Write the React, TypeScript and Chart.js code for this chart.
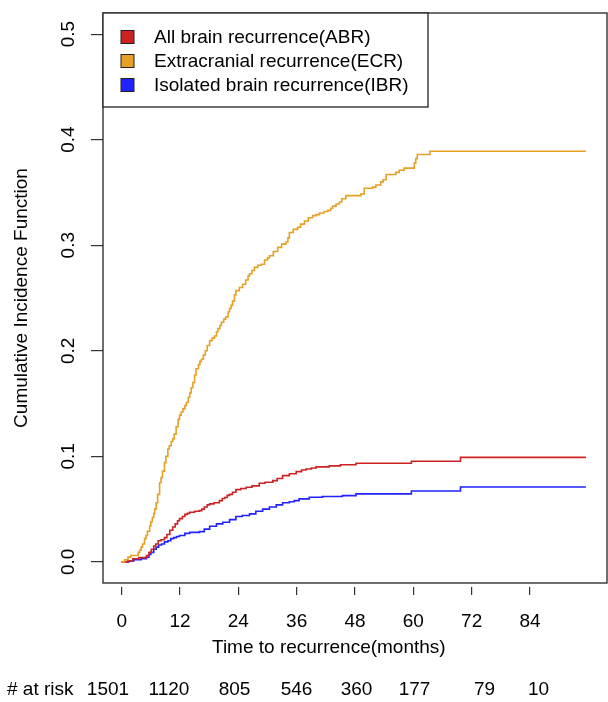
import React, { useEffect, useRef } from 'react';
import { Chart, registerables } from 'chart.js';

Chart.register(...registerables);

// ---- data ----
const seriesLabels = ['All brain recurrence(ABR)', 'Extracranial recurrence(ECR)', 'Isolated brain recurrence(IBR)'];
const seriesColors = ['#CD2222', '#E6A024', '#2222FF'];

const abrTime = [0, 1.2, 2.3, 3.5, 5.1, 5.6, 6.1, 6.6, 7.0, 7.5, 8.1, 8.8, 9.3, 9.9, 10.5, 11.0, 11.5, 11.9, 12.5, 13.0, 13.5, 14.0, 15.0, 16.0, 16.5, 17.0, 17.6, 18.1, 19.0, 20.1, 20.7, 21.2, 21.7, 22.2, 22.8, 23.5, 24.5, 25.6, 26.8, 28.3, 29.5, 31.1, 32.0, 33.1, 34.5, 35.9, 37.0, 37.9, 39.0, 40.0, 42.7, 45.0, 48.2, 59.6, 69.7, 95.5];
const abrCif = [0, 0.001, 0.003, 0.004, 0.006, 0.009, 0.012, 0.015, 0.017, 0.020, 0.021, 0.023, 0.026, 0.030, 0.033, 0.036, 0.039, 0.041, 0.043, 0.045, 0.046, 0.047, 0.048, 0.0486, 0.050, 0.052, 0.054, 0.055, 0.056, 0.058, 0.060, 0.061, 0.063, 0.064, 0.066, 0.0685, 0.0695, 0.0707, 0.072, 0.0745, 0.0755, 0.077, 0.079, 0.0817, 0.0835, 0.0855, 0.087, 0.088, 0.089, 0.090, 0.091, 0.092, 0.0934, 0.0953, 0.099, 0.099];

const ecrTime = [0, 0.6, 1.3, 1.85, 3.0, 3.4, 3.7, 4.0, 4.3, 4.7, 5.0, 5.3, 5.75, 6.0, 6.3, 6.6, 6.8, 7.1, 7.4, 7.8, 8.1, 8.4, 8.8, 9.1, 9.5, 9.8, 10.2, 10.5, 10.8, 11.2, 11.6, 11.9, 12.25, 12.6, 13.0, 13.3, 13.7, 14.0, 14.3, 14.65, 15.0, 15.3, 15.8, 16.1, 16.4, 16.8, 17.2, 17.6, 18.1, 18.6, 19.1, 19.5, 19.8, 20.2, 20.5, 21.0, 21.4, 21.9, 22.2, 22.5, 22.8, 23.2, 23.5, 24.2, 24.9, 25.5, 26.0, 26.3, 26.8, 27.3, 28.0, 28.7, 29.4, 30.0, 30.4, 31.2, 32.1, 32.9, 33.8, 34.2, 34.5, 35.3, 36.2, 36.8, 37.6, 38.4, 39.3, 40.0, 40.7, 41.6, 42.4, 43.0, 43.4, 44.1, 44.8, 45.3, 46.1, 49.2, 49.9, 51.6, 52.3, 53.3, 53.8, 54.4, 56.4, 57.1, 58.1, 60.2, 60.5, 60.8, 63.4, 95.5];
const ecrCif = [0, 0.002, 0.0045, 0.006, 0.006, 0.009, 0.011, 0.014, 0.017, 0.022, 0.025, 0.029, 0.034, 0.038, 0.042, 0.046, 0.050, 0.056, 0.064, 0.075, 0.080, 0.086, 0.094, 0.100, 0.107, 0.110, 0.114, 0.1165, 0.121, 0.128, 0.135, 0.139, 0.142, 0.145, 0.148, 0.151, 0.156, 0.160, 0.165, 0.170, 0.177, 0.183, 0.187, 0.190, 0.192, 0.196, 0.200, 0.205, 0.2096, 0.212, 0.214, 0.218, 0.221, 0.224, 0.227, 0.230, 0.232, 0.237, 0.240, 0.243, 0.247, 0.253, 0.257, 0.260, 0.263, 0.267, 0.271, 0.273, 0.276, 0.279, 0.281, 0.282, 0.286, 0.288, 0.290, 0.294, 0.298, 0.301, 0.303, 0.307, 0.312, 0.315, 0.317, 0.320, 0.323, 0.326, 0.328, 0.329, 0.3305, 0.332, 0.333, 0.335, 0.337, 0.339, 0.341, 0.344, 0.347, 0.3485, 0.354, 0.355, 0.357, 0.360, 0.362, 0.367, 0.369, 0.371, 0.373, 0.378, 0.382, 0.386, 0.389, 0.389];

const ibrTime = [0, 1.5, 2.5, 4.0, 5.1, 5.6, 6.0, 6.6, 7.1, 7.6, 8.2, 8.8, 9.5, 10.1, 10.7, 11.3, 11.9, 13.0, 14.0, 16.0, 17.0, 18.1, 19.5, 20.8, 22.2, 23.5, 24.8, 26.3, 27.6, 29.0, 30.4, 31.8, 33.1, 34.5, 35.5, 36.5, 38.6, 41.3, 45.4, 48.2, 59.6, 69.7, 95.5];
const ibrCif = [0, 0.001, 0.002, 0.003, 0.0044, 0.007, 0.009, 0.012, 0.014, 0.016, 0.017, 0.019, 0.020, 0.022, 0.023, 0.024, 0.025, 0.027, 0.028, 0.0287, 0.031, 0.0338, 0.036, 0.0376, 0.040, 0.043, 0.044, 0.0455, 0.048, 0.050, 0.052, 0.054, 0.056, 0.057, 0.058, 0.0597, 0.0612, 0.062, 0.0628, 0.0644, 0.0672, 0.071, 0.071];

const xTicks = [0, 12, 24, 36, 48, 60, 72, 84];
const yTicks = [0, 0.1, 0.2, 0.3, 0.4, 0.5];
const atRisk = [1501, 1120, 805, 546, 360, 177, 79, 10];

const xTitle = 'Time to recurrence(months)';
const yTitle = 'Cumulative Incidence Function';
const atRiskTitle = '# at risk';

// ---- layout / style constants ----
const W = 608;
const H = 702;
const FONT = '"Liberation Sans", Arial, Helvetica, sans-serif';
const FS = 19;
const atRiskCenters = [108, 169, 234.5, 296.5, 356.5, 414.5, 484.5, 538.5];

const toPoints = (t: number[], v: number[]) => t.map((x, i) => ({ x, y: v[i] }));

const zeroPad = (s: any) => {
  s.paddingTop = 0;
  s.paddingBottom = 0;
  s.paddingLeft = 0;
  s.paddingRight = 0;
};

const overlayPlugin = {
  id: 'overlay',
  afterDraw(chart: any) {
    const { ctx, chartArea } = chart;
    const xs = chart.scales.x;
    ctx.save();
    // plot box
    ctx.strokeStyle = '#222';
    ctx.lineWidth = 1.3;
    ctx.strokeRect(chartArea.left, chartArea.top, chartArea.right - chartArea.left, chartArea.bottom - chartArea.top);

    // legend
    const lx = chartArea.left, ly = chartArea.top, lw = 325, lh = 94;
    ctx.fillStyle = '#fff';
    ctx.fillRect(lx, ly, lw, lh);
    ctx.strokeRect(lx, ly, lw, lh);
    ctx.font = `${FS}px ${FONT}`;
    ctx.textBaseline = 'middle';
    ctx.textAlign = 'left';
    seriesLabels.forEach((lab, i) => {
      const cy = ly + 24 + i * 24;
      ctx.fillStyle = seriesColors[i];
      ctx.fillRect(lx + 18, cy - 6.5, 13, 13);
      ctx.strokeStyle = '#222';
      ctx.lineWidth = 1;
      ctx.strokeRect(lx + 18, cy - 6.5, 13, 13);
      ctx.fillStyle = '#000';
      ctx.fillText(lab, lx + 51, cy + 1);
    });

    // x title
    ctx.fillStyle = '#000';
    ctx.textAlign = 'center';
    const cx = (xs.getPixelForValue(xTicks[0]) + xs.getPixelForValue(xTicks[xTicks.length - 1])) / 2 + 3;
    ctx.fillText(xTitle, cx, 648);

    // at risk row
    ctx.textAlign = 'left';
    ctx.fillText(atRiskTitle, 7, 690);
    ctx.textAlign = 'center';
    atRisk.forEach((n, i) => {
      ctx.fillText(String(n), atRiskCenters[i], 690);
    });
    ctx.restore();
  },
};

export default function App() {
  const ref = useRef<HTMLCanvasElement>(null);
  useEffect(() => {
    if (!ref.current) return;
    const mk = (i: number, t: number[], v: number[]) => ({
      label: seriesLabels[i],
      data: toPoints(t, v),
      borderColor: seriesColors[i],
      backgroundColor: seriesColors[i],
      borderWidth: 1.6,
      pointRadius: 0,
      fill: false,
      stepped: 'before' as const,
    });
    const chart = new Chart(ref.current, {
      type: 'line',
      data: {
        datasets: [mk(1, ecrTime, ecrCif), mk(0, abrTime, abrCif), mk(2, ibrTime, ibrCif)],
      },
      options: {
        animation: false,
        responsive: false,
        devicePixelRatio: 1,
        layout: { padding: { top: 13, right: 1, left: 0, bottom: 0 } },
        plugins: { legend: { display: false }, tooltip: { enabled: false } },
        scales: {
          x: {
            type: 'linear',
            min: -3.84,
            max: 99.84,
            afterBuildTicks: (s: any) => {
              s.ticks = xTicks.map((v) => ({ value: v }));
            },
            afterFit: (s: any) => {
              s.height = H - 583;
              zeroPad(s);
            },
            ticks: {
              autoSkip: false,
              maxRotation: 0,
              minRotation: 0,
              padding: 15,
              color: '#000',
              font: { family: FONT, size: FS },
              callback: (v: any) => String(v),
            },
            grid: {
              drawOnChartArea: false,
              drawTicks: true,
              tickLength: 12,
              tickBorderDash: [0, 4, 8],
              color: '#333',
              lineWidth: 1.2,
            },
            border: { display: false },
          },
          y: {
            type: 'linear',
            min: -0.02,
            max: 0.52,
            afterBuildTicks: (s: any) => {
              s.ticks = yTicks.map((v) => ({ value: v }));
            },
            afterFit: (s: any) => {
              s.width = 103;
              zeroPad(s);
            },
            ticks: {
              minRotation: 90,
              maxRotation: 90,
              crossAlign: 'center',
              padding: 9,
              color: '#000',
              font: { family: FONT, size: FS },
              callback: (v: any) => Number(v).toFixed(1),
            },
            grid: {
              drawOnChartArea: false,
              drawTicks: true,
              tickLength: 12,
              color: '#333',
              lineWidth: 1.2,
            },
            border: { display: false },
            title: {
              display: true,
              text: yTitle,
              color: '#000',
              font: { family: FONT, size: FS },
              padding: { top: 10, bottom: 0 },
            },
          },
        },
      },
      plugins: [overlayPlugin],
    } as any);
    return () => chart.destroy();
  }, []);
  return (
    <div style={{ position: 'absolute', left: 0, top: 0, width: W, height: H, background: '#fff' }}>
      <canvas ref={ref} width={W} height={H} style={{ display: 'block' }} />
    </div>
  );
}
